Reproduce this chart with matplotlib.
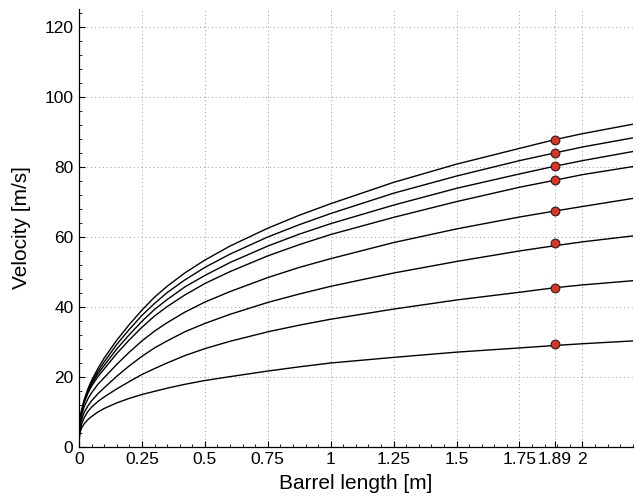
import matplotlib
matplotlib.use("Agg")
import matplotlib.pyplot as plt
from matplotlib.ticker import AutoMinorLocator

# ---- data ----
barrel_x = [0, 0.002, 0.005, 0.01, 0.02, 0.035, 0.05, 0.075, 0.1, 0.15, 0.2, 0.25,
            0.3, 0.35, 0.42, 0.5, 0.6, 0.75, 0.875, 1.0, 1.25, 1.5, 1.75, 1.89, 2.0, 2.2]

curve_1 = [0, 5.5, 7.9, 10.2, 13.2, 16.4, 18.9, 22.3, 25.3, 30.4, 34.9, 39.0, 42.7,
           45.8, 49.6, 53.3, 57.3, 62.4, 66.1, 69.4, 75.5, 80.7, 85.2, 87.7, 89.4, 92.1]
curve_2 = [0, 5.4, 7.8, 10.1, 13.0, 16.0, 18.4, 21.5, 24.2, 29.2, 33.5, 37.5, 40.9,
           44.0, 47.6, 51.2, 55.0, 59.9, 63.4, 66.6, 72.4, 77.3, 81.7, 83.9, 85.6, 88.2]
curve_3 = [0, 5.3, 7.7, 10.0, 12.8, 15.6, 17.9, 20.8, 23.2, 27.9, 32.0, 35.8, 39.2,
           42.0, 45.6, 48.9, 52.6, 57.3, 60.7, 63.7, 69.0, 73.8, 77.9, 80.1, 81.7, 84.3]
curve_4 = [0, 5.2, 7.6, 9.8, 12.5, 15.2, 17.3, 20.0, 22.2, 26.6, 30.5, 34.1, 37.3,
           40.0, 43.3, 46.6, 50.0, 54.5, 57.7, 60.6, 65.5, 70.0, 74.1, 76.1, 77.7, 80.0]
curve_5 = [0, 4.8, 7.0, 8.9, 11.3, 13.6, 15.4, 17.8, 19.7, 23.5, 27.0, 30.2, 33.0,
           35.4, 38.4, 41.3, 44.3, 48.3, 51.2, 53.7, 58.3, 62.2, 65.6, 67.3, 68.6, 70.9]
curve_6 = [0, 4.2, 6.0, 7.7, 9.7, 11.6, 13.1, 15.1, 16.8, 20.1, 23.1, 25.8, 28.2,
           30.2, 32.8, 35.2, 37.8, 41.2, 43.6, 45.8, 49.6, 52.9, 55.9, 57.4, 58.5, 60.2]
curve_7 = [0, 3.3, 4.9, 6.4, 8.2, 10.0, 11.3, 12.9, 14.2, 16.5, 18.6, 20.6, 22.3,
           23.9, 26.0, 28.0, 30.1, 32.8, 34.7, 36.4, 39.3, 41.9, 44.1, 45.4, 46.2, 47.4]
curve_8 = [0, 3.0, 4.2, 5.3, 6.5, 7.7, 8.6, 9.9, 10.9, 12.5, 13.8, 14.9, 15.8,
           16.7, 17.8, 18.9, 20.0, 21.6, 22.8, 23.9, 25.5, 27.0, 28.2, 28.9, 29.4, 30.2]
curves = [curve_1, curve_2, curve_3, curve_4, curve_5, curve_6, curve_7, curve_8]

marker_x = 1.89
marker_v = [87.7, 83.9, 80.3, 76.2, 67.3, 58.3, 45.4, 29.3]

x_ticks = [0, 0.25, 0.5, 0.75, 1, 1.25, 1.5, 1.75, 1.89, 2]
x_ticklabels = ["0", "0.25", "0.5", "0.75", "1", "1.25", "1.5", "1.75", "1.89", "2"]
y_ticks = [0, 20, 40, 60, 80, 100, 120]

# ---- plot ----
plt.rcParams["font.family"] = ["Liberation Sans", "DejaVu Sans"]
fig = plt.figure(figsize=(6.38, 5.03), dpi=100)
ax = fig.add_axes([0.1238, 0.112, 0.868, 0.870])

for c in curves:
    ax.plot(barrel_x, c, color="black", lw=1.0, zorder=3)
ax.plot([marker_x] * len(marker_v), marker_v, linestyle="none", marker="o",
        markersize=6.3, markerfacecolor="#e3301f", markeredgecolor="#222222",
        markeredgewidth=0.8, zorder=4)

ax.set_xlim(0, 2.2)
ax.set_ylim(0, 125)
ax.set_xticks(x_ticks)
ax.set_xticklabels(x_ticklabels)
ax.set_yticks(y_ticks)
ax.xaxis.set_minor_locator(AutoMinorLocator(5))
ax.yaxis.set_minor_locator(AutoMinorLocator(5))

ax.grid(True, which="major", linestyle=(0, (1, 3)), color="#9a9a9a", lw=0.7)
ax.tick_params(which="major", direction="in", length=4, width=0.8, labelsize=12.5,
               top=False, right=False, pad=4)
ax.tick_params(which="minor", direction="in", length=2, width=0.6, top=False, right=False)
for s in ["top", "right"]:
    ax.spines[s].set_visible(False)
for s in ["left", "bottom"]:
    ax.spines[s].set_linewidth(0.9)

ax.set_xlabel("Barrel length [m]", fontsize=15, labelpad=5)
ax.set_ylabel("Velocity [m/s]", fontsize=15, labelpad=10)

fig.savefig("out.png", dpi=100)
